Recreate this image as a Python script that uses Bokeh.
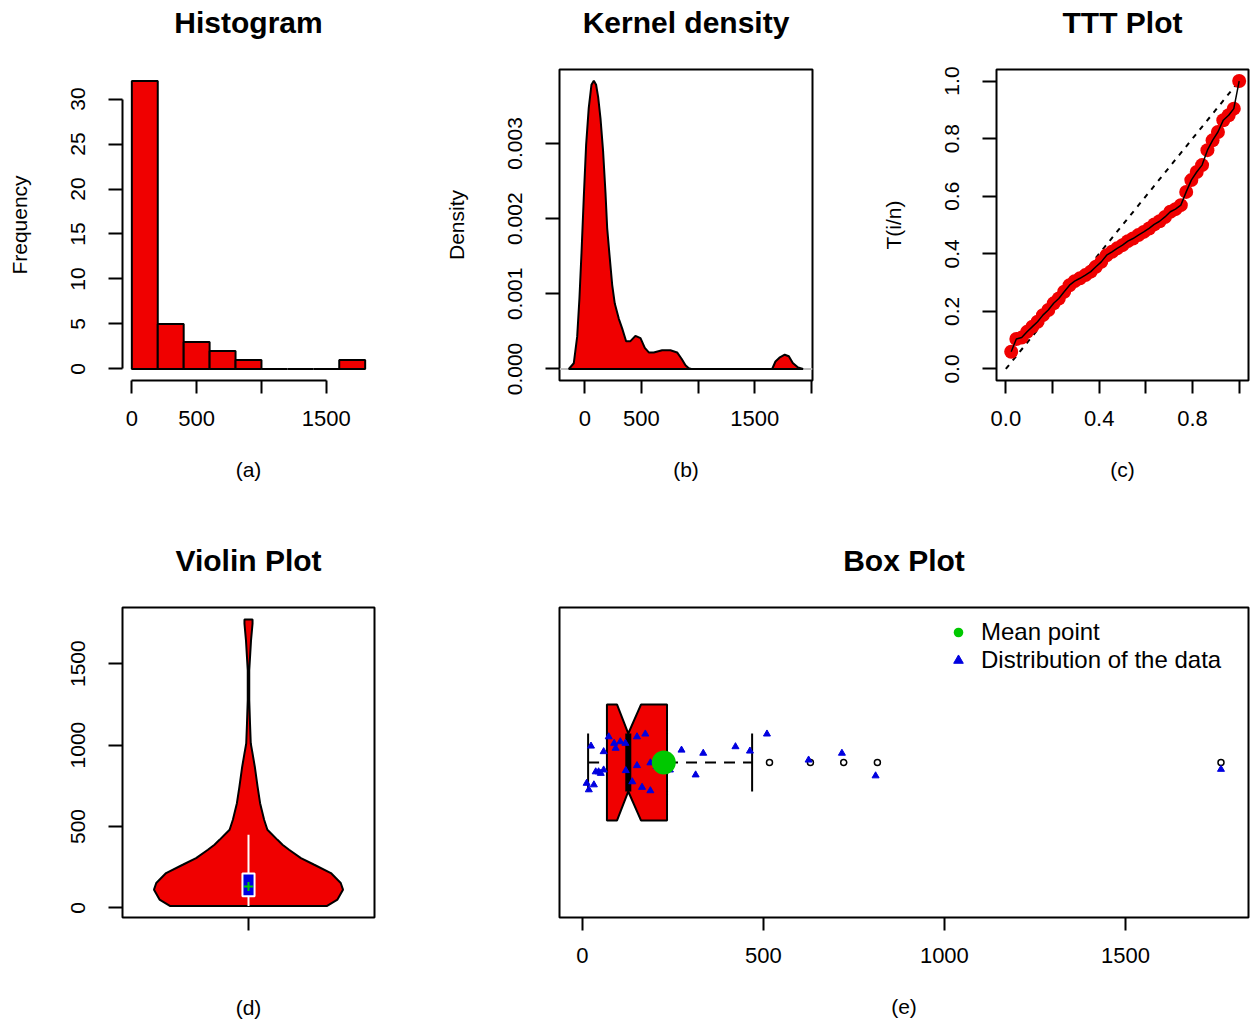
from bokeh.plotting import figure
from bokeh.layouts import column, row
from bokeh.models import FixedTicker, Span, PrintfTickFormatter, Legend, LegendItem
from bokeh.embed import file_html
from bokeh.resources import INLINE

FONT = "Liberation Sans"
RED = "#F00000"
BLUE = "#0000E0"
GREEN = "#00C800"

# ---------------- data ----------------
# (a) histogram
hist_left = [0, 200, 400, 600, 800, 1000, 1200, 1400, 1600]
hist_right = [200, 400, 600, 800, 1000, 1200, 1400, 1600, 1800]
hist_counts = [32, 5, 3, 2, 1, 0, 0, 0, 1]

# (b) kernel density curve
kde_x = [-141, -97, -67, -47, -29, -9, 12, 35, 59, 80, 100, 118, 139, 162, 183,
         198, 221, 242, 265, 300, 330, 365, 403, 447, 492, 530, 565, 609, 683,
         756, 815, 853, 889, 918, 940, 1654, 1683, 1718, 1765, 1801, 1836, 1883, 1927]
kde_y = [0.0, 0.000076, 0.00043, 0.00094, 0.00154, 0.00227, 0.00298, 0.00347,
         0.00378, 0.003834, 0.00378, 0.00362, 0.00333, 0.00289, 0.00234, 0.00187,
         0.00147, 0.00112, 0.00087, 0.00067, 0.00054, 0.00037, 0.00037, 0.00044,
         0.00041, 0.00028, 0.00022, 0.00022, 0.00025, 0.00025, 0.00022, 0.00014,
         0.00005, 0.00001, 0.0, 0.0, 0.00010, 0.00015, 0.00019, 0.00017, 0.00008,
         0.00002, 0.0]

# (c) TTT plot
ttt_x = [0.023, 0.045, 0.068, 0.091, 0.114, 0.136, 0.159, 0.182, 0.205, 0.227,
         0.250, 0.273, 0.295, 0.318, 0.341, 0.364, 0.386, 0.409, 0.432, 0.455,
         0.477, 0.500, 0.523, 0.545, 0.568, 0.591, 0.614, 0.636, 0.659, 0.682,
         0.705, 0.727, 0.750, 0.773, 0.795, 0.818, 0.841, 0.864, 0.886, 0.909,
         0.932, 0.955, 0.977, 1.000]
ttt_y = [0.060, 0.104, 0.109, 0.129, 0.147, 0.164, 0.187, 0.205, 0.228, 0.245,
         0.268, 0.291, 0.305, 0.315, 0.326, 0.338, 0.355, 0.372, 0.395, 0.407,
         0.419, 0.430, 0.444, 0.453, 0.465, 0.476, 0.488, 0.502, 0.513, 0.528,
         0.546, 0.555, 0.569, 0.615, 0.656, 0.684, 0.708, 0.760, 0.794, 0.823,
         0.864, 0.881, 0.904, 1.000]
diag_x = [0.0, 1.0]
diag_y = [0.0, 1.0]

# (d) violin outline: value and half width
vio_y = [12, 51, 112, 153, 214, 265, 306, 357, 388, 418, 480, 541, 643, 745,
         867, 949, 1010, 1133, 1276, 1460, 1643, 1745, 1772]
vio_w = [0.312, 0.353, 0.375, 0.366, 0.327, 0.261, 0.208, 0.161, 0.135, 0.115,
         0.075, 0.062, 0.046, 0.036, 0.025, 0.016, 0.009, 0.006, 0.003, 0.003,
         0.010, 0.016, 0.016]
vio_box = [71, 212]      # Q1, Q3
vio_whisk = [12, 449]
vio_median = 132

# (e) box plot
bp_lower, bp_q1, bp_med, bp_q3, bp_upper = 16, 68, 127, 234, 469
bp_notch = [96, 162]
bp_mean = 225
bp_outliers = [517, 630, 722, 815, 1764]
pts_x = [12, 18, 32, 24, 45, 59, 73, 88, 105, 119, 92, 37, 59, 51, 120, 138,
         151, 151, 174, 165, 188, 188, 205, 242, 274, 313, 334, 423, 463, 510,
         625, 717, 810, 1764]
pts_dy = [-0.067, -0.088, -0.072, 0.053, -0.030, 0.035, 0.083, 0.062, 0.067,
          0.062, 0.046, -0.030, -0.024, -0.035, -0.026, -0.062, -0.010, 0.083,
          0.092, -0.080, -0.091, -0.001, -0.013, -0.024, 0.040, -0.040, 0.030,
          0.051, 0.037, 0.092, 0.008, 0.030, -0.043, -0.022]

TOP = 102  # room for the title above each frame


def make_fig(width, height, left, right, bottom, xr, yr, title, boxed=True, yaxis=True):
    p = figure(width=width, height=height, x_range=xr, y_range=yr,
               output_backend="svg", toolbar_location=None,
               min_border_left=left, min_border_right=right,
               min_border_top=TOP, min_border_bottom=bottom,
               y_axis_location="left" if yaxis else None)
    p.grid.visible = False
    p.background_fill_color = "white"
    p.border_fill_color = "white"
    if boxed:
        p.outline_line_color = "black"
        p.outline_line_width = 2
    else:
        p.outline_line_color = None
    p.title.text = title
    p.title.align = "center"
    p.title.text_font = FONT
    p.title.text_font_style = "bold"
    p.title.text_font_size = "30px"
    p.title.text_color = "black"
    p.title.standoff = 62
    for ax in p.axis:
        ax.major_tick_in = 0
        ax.minor_tick_in = 0
        ax.minor_tick_out = 0
        ax.major_tick_line_width = 2
        ax.major_tick_line_color = "black"
        ax.axis_line_width = 2
        ax.axis_line_color = None if boxed else "black"
        ax.major_label_text_font = FONT
        ax.major_label_text_color = "black"
        ax.axis_label_text_font = FONT
        ax.axis_label_text_font_style = "normal"
        ax.axis_label_text_color = "black"
    for ax in p.xaxis:
        ax.major_tick_out = 13
        ax.major_label_text_font_size = "22px"
        ax.major_label_standoff = 17
        ax.axis_label_text_font_size = "21px"
        ax.axis_label_standoff = 29
    for ax in p.yaxis:
        ax.major_tick_out = 14
        ax.major_label_text_font_size = "21px"
        ax.major_label_orientation = "vertical"
        ax.major_label_standoff = 23
        ax.axis_label_text_font_size = "21px"
        ax.axis_label_standoff = 38
    return p


# frame tops wanted at 69 (row 1) and 607 (row 2)
SHIFT1 = TOP - 69
SHIFT2 = TOP - 97
H1 = 510 + SHIFT1
H2 = 511 + SHIFT2

# ---------------- (a) Histogram ----------------
pa = make_fig(440, H1, 122, 66, 130, (-72, 1872), (-1.28, 33.28), "Histogram", boxed=False)
pa.quad(left=hist_left, right=hist_right, bottom=0, top=hist_counts,
        fill_color=RED, line_color="black", line_width=2)
pa.xaxis.ticker = FixedTicker(ticks=[0, 500, 1000, 1500])
pa.xaxis.bounds = (0, 1500)
pa.xaxis.major_label_overrides = {1000: ""}
pa.xaxis.axis_label = "(a)"
pa.yaxis.ticker = FixedTicker(ticks=[0, 5, 10, 15, 20, 25, 30])
pa.yaxis.bounds = (0, 30)
pa.yaxis.axis_label = "Frequency"

# ---------------- (b) Kernel density ----------------
pb = make_fig(437, H1, 119, 65, 130, (-223, 2010), (-0.000153, 0.003983), "Kernel density")
pb.add_layout(Span(location=0, dimension="width", line_color="#BEBEBE", line_width=2, level="underlay"))
pb.patch(kde_x, kde_y, fill_color=RED, line_color="black", line_width=2)
pb.xaxis.ticker = FixedTicker(ticks=[0, 500, 1000, 1500, 2000])
pb.xaxis.major_label_overrides = {1000: "", 2000: ""}
pb.xaxis.axis_label = "(b)"
pb.yaxis.ticker = FixedTicker(ticks=[0, 0.001, 0.002, 0.003])
pb.yaxis.formatter = PrintfTickFormatter(format="%.3f")
pb.yaxis.axis_label = "Density"

# ---------------- (c) TTT plot ----------------
pc = make_fig(381, H1, 119, 10, 130, (-0.04, 1.04), (-0.04, 1.04), "TTT Plot")
pc.line(diag_x, diag_y, line_color="black", line_width=2, line_dash="5 6")
pc.scatter(ttt_x, ttt_y, marker="circle", size=14, fill_color=RED, line_color=None)
pc.line(ttt_x, ttt_y, line_color="black", line_width=1.5)
pc.xaxis.ticker = FixedTicker(ticks=[0.0, 0.2, 0.4, 0.6, 0.8, 1.0])
pc.xaxis.formatter = PrintfTickFormatter(format="%.1f")
pc.xaxis.major_label_overrides = {0.2: "", 0.6: "", 1.0: ""}
pc.xaxis.axis_label = "(c)"
pc.yaxis.ticker = FixedTicker(ticks=[0.0, 0.2, 0.4, 0.6, 0.8, 1.0])
pc.yaxis.formatter = PrintfTickFormatter(format="%.1f")
pc.yaxis.axis_label = "T(i/n)"

# ---------------- (d) Violin plot ----------------
pd_ = make_fig(440, H2, 122, 66, 103, (0.5, 1.5), (-59, 1845), "Violin Plot")
vx = [1 + w for w in vio_w] + [1 - w for w in reversed(vio_w)]
vy = list(vio_y) + list(reversed(vio_y))
pd_.patch(vx, vy, fill_color=RED, line_color="black", line_width=2)
pd_.segment(x0=[1], y0=[vio_whisk[0]], x1=[1], y1=[vio_whisk[1]], line_color="white", line_width=2)
pd_.quad(left=[0.976], right=[1.024], bottom=[vio_box[0]], top=[vio_box[1]],
         fill_color=BLUE, line_color="white", line_width=2)
pd_.scatter([1], [vio_median], marker="cross", size=9, line_color=GREEN, line_width=2)
pd_.xaxis.ticker = FixedTicker(ticks=[1])
pd_.xaxis.major_label_overrides = {1: " "}
pd_.xaxis.axis_label = "(d)"
pd_.xaxis.axis_label_standoff = 20
pd_.yaxis.ticker = FixedTicker(ticks=[0, 500, 1000, 1500])

# ---------------- (e) Box plot ----------------
pe = make_fig(818, H2, 119, 10, 103, (-63, 1840), (0.5, 1.5), "Box Plot", yaxis=False)
h = 0.187
bx = [bp_q1, bp_notch[0], bp_med, bp_notch[1], bp_q3, bp_q3, bp_notch[1], bp_med, bp_notch[0], bp_q1]
by = [1 - h, 1 - h, 1 - h / 2, 1 - h, 1 - h, 1 + h, 1 + h, 1 + h / 2, 1 + h, 1 + h]
pe.segment(x0=[bp_lower, bp_q3], y0=[1, 1], x1=[bp_q1, bp_upper], y1=[1, 1],
           line_color="black", line_width=2, line_dash="11 8")
pe.segment(x0=[bp_lower, bp_upper], y0=[1 - h / 2, 1 - h / 2], x1=[bp_lower, bp_upper], y1=[1 + h / 2, 1 + h / 2],
           line_color="black", line_width=2)
pe.patch(bx, by, fill_color=RED, line_color="black", line_width=2)
pe.segment(x0=[bp_med], y0=[1 - h / 2], x1=[bp_med], y1=[1 + h / 2], line_color="black", line_width=6)
pe.scatter(bp_outliers, [1] * len(bp_outliers), marker="circle", size=6,
           fill_color="white", line_color="black", line_width=1.5)
r_dist = pe.scatter(pts_x, [1 + d for d in pts_dy], marker="triangle", size=7,
                    fill_color=BLUE, line_color=BLUE)
r_mean = pe.scatter([bp_mean], [1], marker="circle", size=24, fill_color=GREEN, line_color=None)
legend = Legend(items=[LegendItem(label="Mean point", renderers=[r_mean]),
                       LegendItem(label="Distribution of the data", renderers=[r_dist])],
                location=(387, 243), border_line_color=None, background_fill_alpha=0,
                label_text_font=FONT, label_text_font_size="24px", label_text_color="black",
                glyph_width=24, glyph_height=24, label_standoff=11, spacing=0, padding=0,
                margin=0)
pe.add_layout(legend, "center")
pe.xaxis.ticker = FixedTicker(ticks=[0, 500, 1000, 1500])
pe.xaxis.axis_label = "(e)"

row1 = row(pa, pb, pc, styles={"margin-top": "-%dpx" % SHIFT1})
row2 = row(pd_, pe, styles={"margin-top": "-%dpx" % SHIFT2})
layout = column(row1, row2)
open("out.html", "w").write(file_html(layout, INLINE))
